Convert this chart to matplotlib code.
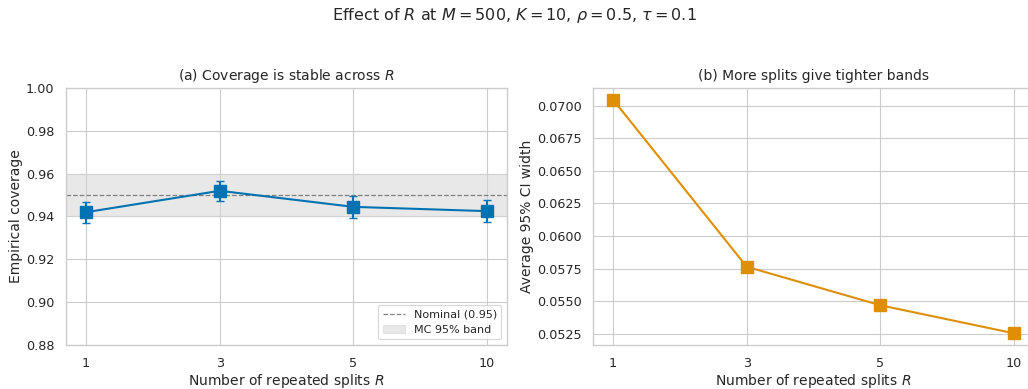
import matplotlib
matplotlib.use('Agg')
import matplotlib.pyplot as plt
import seaborn as sns
import numpy as np

sns.set_theme(context='paper', style='whitegrid', palette='colorblind', font_scale=1.04)

r_labels = ['1', '3', '5', '10']
coverage = [0.9420, 0.9520, 0.9445, 0.9425]
coverage_err = [0.0050, 0.0048, 0.0050, 0.0050]
ci_width = [0.07045, 0.05765, 0.05470, 0.05255]
nominal = 0.95
band_lo, band_hi = 0.94, 0.96

blue, orange = sns.color_palette('colorblind')[0], sns.color_palette('colorblind')[1]
x_pos = np.arange(len(r_labels))

fig = plt.figure(figsize=(10.28, 3.89), dpi=100)
ax1 = fig.add_axes([0.0642, 0.1131, 0.429, 0.6607])
ax2 = fig.add_axes([0.5769, 0.1131, 0.429, 0.6607])
fig.suptitle(r'Effect of $R$ at $M=500$, $K=10$, $\rho=0.5$, $\tau=0.1$', fontsize=11.5, y=0.985)

# (a) coverage
ax1.axhline(nominal, color='gray', linestyle='--', linewidth=0.9, label='Nominal (0.95)', zorder=2)
ax1.axhspan(band_lo, band_hi, color='lightgray', alpha=0.5, label='MC 95% band', zorder=1)
ax1.errorbar(x_pos, coverage, yerr=coverage_err, fmt='s-', color=blue, markersize=8,
             capsize=3, linewidth=1.5, zorder=3)
ax1.set_ylim(0.88, 1.00)
ax1.set_xticks(x_pos, r_labels)
ax1.set_title(r'(a) Coverage is stable across $R$')
ax1.set_xlabel(r'Number of repeated splits $R$', labelpad=1.5)
ax1.set_ylabel('Empirical coverage', labelpad=2)
ax1.legend(loc='lower right', fontsize=8)

# (b) CI width
ax2.plot(x_pos, ci_width, 's-', color=orange, markersize=8, linewidth=1.5)
ax2.set_xticks(x_pos, r_labels)
ax2.set_yticks(np.arange(0.0525, 0.0701, 0.0025))
ax2.yaxis.set_major_formatter(matplotlib.ticker.FormatStrFormatter('%.4f'))
ax2.set_title('(b) More splits give tighter bands')
ax2.set_xlabel(r'Number of repeated splits $R$', labelpad=1.5)
ax2.set_ylabel('Average 95% CI width', labelpad=2)

plt.savefig('out.png')
